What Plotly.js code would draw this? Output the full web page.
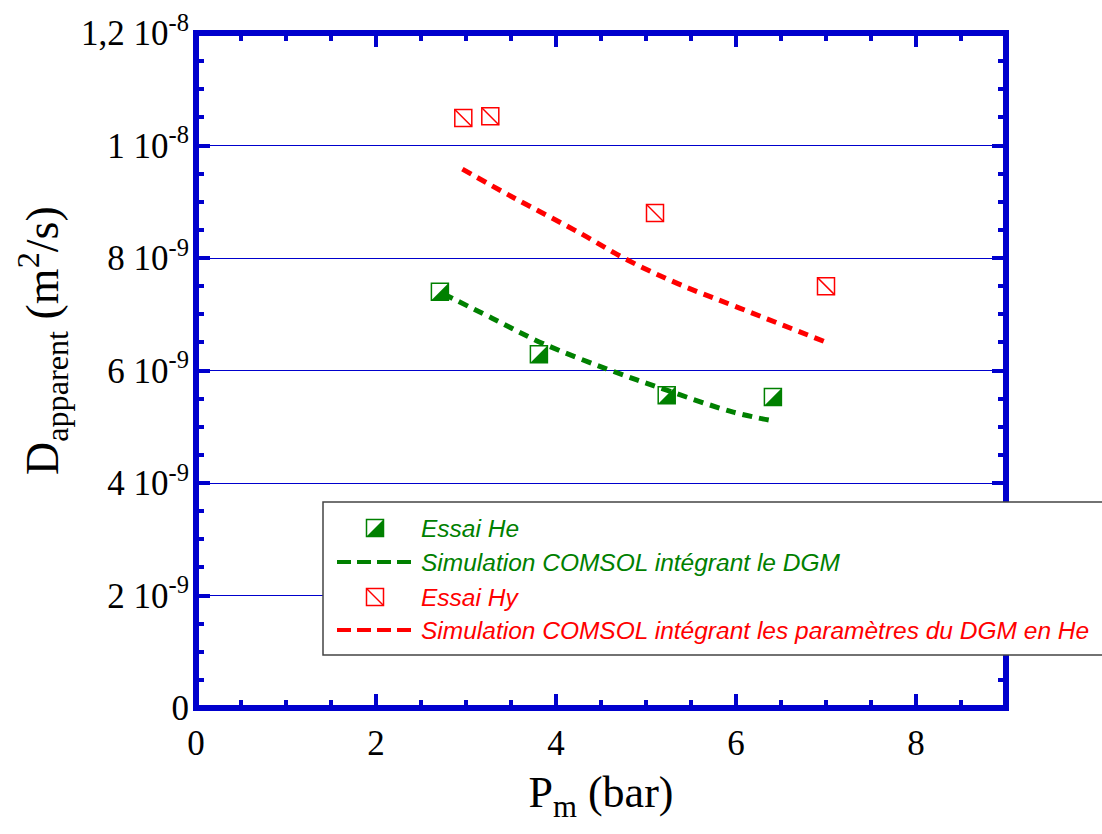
<!DOCTYPE html>
<html>
<head>
<meta charset="utf-8">
<script src="https://cdn.plot.ly/plotly-3.0.1.min.js"></script>
<style>html,body{margin:0;padding:0;background:#fff;}#chart{width:1102px;height:834px;}</style>
</head>
<body>
<div id="chart"></div>
<script>
// ---- data ----
const heX = [2.71, 3.81, 5.23, 6.41];
const heY = [7.40e-9, 6.29e-9, 5.56e-9, 5.53e-9];
const hyX = [2.97, 3.27, 5.10, 7.00];
const hyY = [10.49e-9, 10.52e-9, 8.80e-9, 7.50e-9];
const simHeX = [2.75, 3.29, 3.84, 4.56, 5.23, 5.97, 6.43];
const simHeY = [7.36e-9, 6.93e-9, 6.49e-9, 6.03e-9, 5.65e-9, 5.26e-9, 5.10e-9];
const simHyX = [2.96, 3.52, 4.27, 4.80, 5.36, 6.04, 6.99];
const simHyY = [9.58e-9, 9.08e-9, 8.44e-9, 7.96e-9, 7.54e-9, 7.11e-9, 6.51e-9];
const yTickVals = [0, 2e-9, 4e-9, 6e-9, 8e-9, 1e-8, 1.2e-8];
const yTickText = ['0', '2 10<sup>-9</sup>', '4 10<sup>-9</sup>', '6 10<sup>-9</sup>', '8 10<sup>-9</sup>', '1 10<sup>-8</sup>', '1,2 10<sup>-8</sup>'];
const xTickVals = [0, 2, 4, 6, 8];
const legendNames = ['Essai He', 'Simulation COMSOL intégrant le DGM', 'Essai Hy', 'Simulation COMSOL intégrant les paramètres du DGM en He'];
const xTitle = 'P<sub>m</sub> (bar)';
const yTitle = 'D<sub>apparent</sub> (m<sup>2</sup>/s)';

// ---- styles ----
const GREEN = '#008000', RED = '#ff0000', FRAME = '#0000cd';
const SERIF = 'Liberation Serif, Times New Roman, serif';
const W = 1102, H = 834, ML = 196, MR = 96, MT = 33, MB = 126;
const PW = W - ML - MR, PH = H - MT - MB;
const px = v => (v - ML) / PW;          // pixel -> paper x
const py = v => (H - MB - v) / PH;      // pixel -> paper y
const MS = 17, HS = MS / 2;

const traces = [
  {x: simHeX, y: simHeY, mode: 'lines', line: {color: GREEN, width: 5, dash: '10px,7px', shape: 'spline'}, showlegend: false, name: legendNames[1]},
  {x: simHyX, y: simHyY, mode: 'lines', line: {color: RED, width: 5, dash: '10px,7px', shape: 'spline'}, showlegend: false, name: legendNames[3]},
  {x: heX, y: heY, mode: 'markers', marker: {symbol: 'square-open', size: MS, color: GREEN, line: {color: GREEN, width: 1.5}}, showlegend: false, name: legendNames[0]},
  {x: hyX, y: hyY, mode: 'markers', marker: {symbol: 'square-open', size: MS, color: RED, line: {color: RED, width: 1.5}}, showlegend: false, name: legendNames[2]},
  {x: hyX, y: hyY, mode: 'markers', marker: {symbol: 'line-nw', size: MS, color: RED, line: {color: RED, width: 1.5}}, showlegend: false, hoverinfo: 'skip'}
];

const triPath = `M ${HS} ${-HS} L ${HS} ${HS} L ${-HS} ${-HS} Z`;
const shapes = heX.map((x, i) => ({
  type: 'path', xref: 'x', yref: 'y', xsizemode: 'pixel', ysizemode: 'pixel',
  xanchor: x, yanchor: heY[i], path: triPath, fillcolor: GREEN, line: {width: 0}, layer: 'above'
}));

// plot frame (centred on the plot edges)
shapes.push({type: 'rect', xref: 'paper', yref: 'paper', x0: 0, x1: 1, y0: 0, y1: 1,
  line: {color: FRAME, width: 6}, fillcolor: 'rgba(0,0,0,0)', layer: 'above'});

// custom legend box
const LX = 375, LLX0 = 337, LLX1 = 413, TX = 419;
const rows = [528, 562, 597, 630];
shapes.push({type: 'rect', xref: 'paper', yref: 'paper', x0: px(323), x1: px(1115), y0: py(655), y1: py(502),
  fillcolor: '#ffffff', line: {color: '#444444', width: 1.5}, layer: 'above'});
shapes.push({type: 'line', xref: 'paper', yref: 'paper', x0: px(LLX0), x1: px(LLX1), y0: py(rows[1]), y1: py(rows[1]),
  line: {color: GREEN, width: 4, dash: '14px,6px'}, layer: 'above'});
shapes.push({type: 'line', xref: 'paper', yref: 'paper', x0: px(LLX0), x1: px(LLX1), y0: py(rows[3]), y1: py(rows[3]),
  line: {color: RED, width: 4, dash: '14px,6px'}, layer: 'above'});
const sqPath = `M ${-HS} ${-HS} L ${HS} ${-HS} L ${HS} ${HS} L ${-HS} ${HS} Z`;
shapes.push({type: 'path', xref: 'paper', yref: 'paper', xsizemode: 'pixel', ysizemode: 'pixel', xanchor: px(LX), yanchor: py(rows[0]),
  path: sqPath, line: {color: GREEN, width: 1.5}, layer: 'above'});
shapes.push({type: 'path', xref: 'paper', yref: 'paper', xsizemode: 'pixel', ysizemode: 'pixel', xanchor: px(LX), yanchor: py(rows[0]),
  path: triPath, fillcolor: GREEN, line: {width: 0}, layer: 'above'});
shapes.push({type: 'path', xref: 'paper', yref: 'paper', xsizemode: 'pixel', ysizemode: 'pixel', xanchor: px(LX), yanchor: py(rows[2]),
  path: sqPath, line: {color: RED, width: 1.5}, layer: 'above'});
shapes.push({type: 'path', xref: 'paper', yref: 'paper', xsizemode: 'pixel', ysizemode: 'pixel', xanchor: px(LX), yanchor: py(rows[2]),
  path: `M ${-HS} ${HS} L ${HS} ${-HS}`, line: {color: RED, width: 1.5}, layer: 'above'});

const legFont = {family: 'Liberation Sans, Arial, sans-serif', size: 24.5};
const annotations = [0, 1, 2, 3].map(i => ({
  xref: 'paper', yref: 'paper', x: px(TX), y: py(rows[i]), xanchor: 'left', yanchor: 'middle',
  text: '<i>' + legendNames[i] + '</i>', showarrow: false,
  font: Object.assign({}, legFont, {color: i < 2 ? GREEN : RED})
}));
// y-axis title (as an annotation so it can sit where the reference puts it)
annotations.push({xref: 'paper', yref: 'paper', x: px(42), y: py(341), xanchor: 'center', yanchor: 'middle',
  textangle: -90, text: yTitle, showarrow: false, font: {family: SERIF, size: 46, color: '#000'}});

const layout = {
  width: W, height: H,
  margin: {l: ML, r: MR, t: MT, b: MB, pad: 0},
  paper_bgcolor: '#ffffff', plot_bgcolor: '#ffffff',
  showlegend: false,
  xaxis: {
    range: [0, 9], tickmode: 'array', tickvals: xTickVals,
    ticks: 'inside', ticklen: 14, tickwidth: 4, tickcolor: FRAME,
    showline: false, mirror: 'ticks',
    showgrid: false, zeroline: false,
    minor: {dtick: 0.5, ticks: 'inside', ticklen: 8, tickwidth: 4, tickcolor: FRAME, showgrid: false},
    tickfont: {family: SERIF, size: 35, color: '#000'},
    ticklabelstandoff: 11,
    title: {text: xTitle, font: {family: SERIF, size: 44, color: '#000'}, standoff: 14}
  },
  yaxis: {
    range: [0, 1.2e-8], tickmode: 'array', tickvals: yTickVals, ticktext: yTickText,
    ticks: 'inside', ticklen: 14, tickwidth: 4, tickcolor: FRAME,
    showline: false, mirror: 'ticks',
    showgrid: true, gridcolor: FRAME, gridwidth: 1, zeroline: false,
    minor: {dtick: 5e-10, ticks: 'inside', ticklen: 8, tickwidth: 4, tickcolor: FRAME, showgrid: false},
    tickfont: {family: SERIF, size: 35, color: '#000'},
    ticklabelstandoff: 6
  },
  shapes: shapes,
  annotations: annotations
};

Plotly.newPlot('chart', traces, layout, {staticPlot: true});
</script>
</body>
</html>
